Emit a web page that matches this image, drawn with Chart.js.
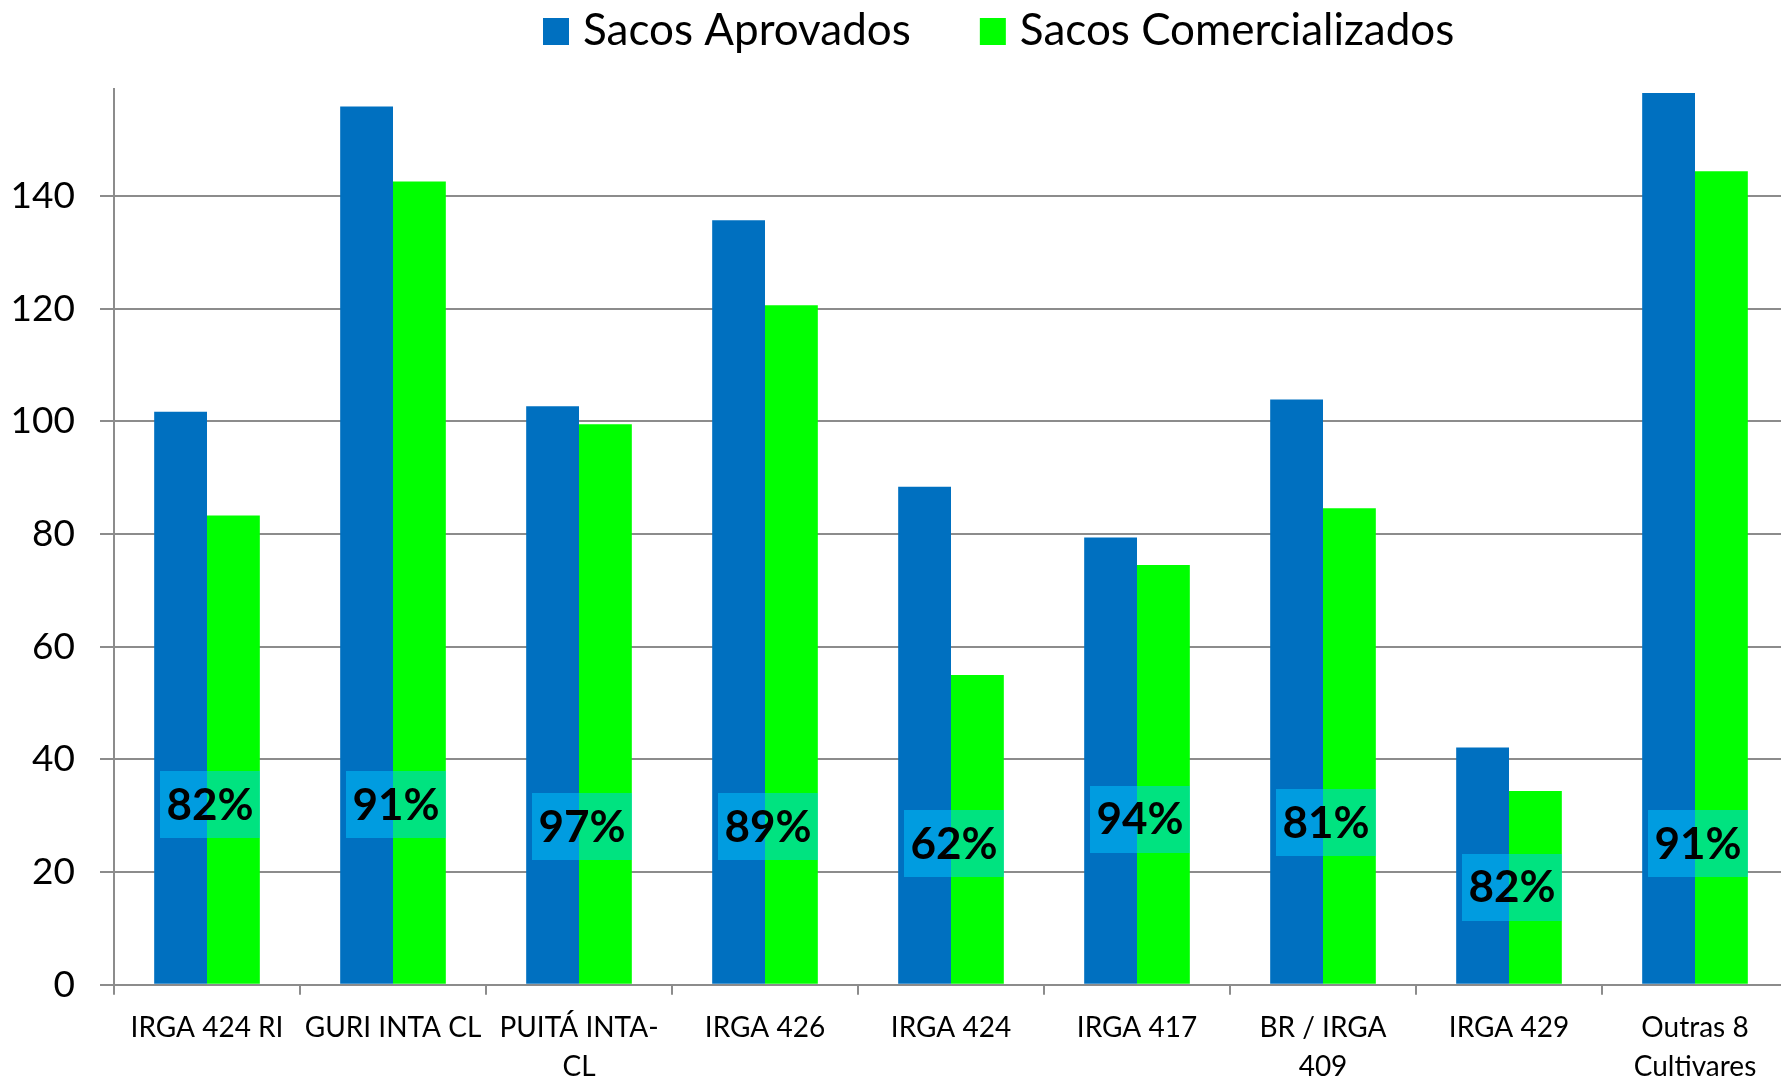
<!DOCTYPE html>
<html>
<head>
<meta charset="utf-8">
<script src="https://cdn.jsdelivr.net/npm/chart.js@4.4.1/dist/chart.umd.min.js"></script>
<style>
html,body{margin:0;padding:0;background:#fff;overflow:hidden;width:1781px;height:1078px;}
#wrap{position:absolute;left:0;top:0;width:1788px;height:1100px;}
canvas{display:block;}
</style>
</head>
<body>
<div id="wrap"><canvas id="c" width="1788" height="1100"></canvas></div>
<script>
// ---- data ----
const categories = [
  'IRGA 424 RI',
  'GURI INTA CL',
  ['PUITÁ INTA-', 'CL'],
  'IRGA 426',
  'IRGA 424',
  'IRGA 417',
  ['BR / IRGA', '409'],
  'IRGA 429',
  ['Outras 8', 'Cultivares']
];
const seriesNames = ['Sacos Aprovados', 'Sacos Comercializados'];
const sacosAprovados = [101.7, 155.9, 102.7, 135.7, 88.4, 79.4, 103.9, 42.1, 158.3];
const sacosComercializados = [83.3, 142.6, 99.5, 120.6, 55.0, 74.5, 84.6, 34.4, 144.4];
const percentLabels = ['82%', '91%', '97%', '89%', '62%', '94%', '81%', '82%', '91%'];
const percentLabelAt = [32.0, 32.0, 28.0, 28.0, 25.0, 29.4, 28.8, 17.3, 25.0];
const yTickValues = [0, 20, 40, 60, 80, 100, 120, 140];
const yMax = 159;

const FONT = 'Lato, "Open Sans", "DejaVu Sans", sans-serif';
const GRID = '#8c8c8c';

const pctPlugin = {
  id: 'pctPlugin',
  afterDatasetsDraw(chart) {
    const {ctx, scales: {x, y}} = chart;
    ctx.save();
    percentLabels.forEach((txt, i) => {
      const cx = x.getPixelForValue(i) + 3;
      const cy = y.getPixelForValue(percentLabelAt[i]);
      const w = 100, h = 67;
      ctx.fillStyle = 'rgba(0,200,255,0.5)';
      ctx.fillRect(Math.round(cx - w / 2), Math.round(cy - h / 2), w, h);
      ctx.fillStyle = '#000';
      ctx.font = 'bold 44px ' + FONT;
      ctx.textAlign = 'center';
      ctx.textBaseline = 'middle';
      ctx.fillText(txt, cx, cy + 1);
    });
    ctx.restore();
  }
};

const legendPlugin = {
  id: 'customLegend',
  afterDraw(chart) {
    const {ctx} = chart;
    ctx.save();
    ctx.font = '44px ' + FONT;
    ctx.textBaseline = 'alphabetic';
    ctx.textAlign = 'left';
    let xPos = 543;
    chart.data.datasets.forEach((ds) => {
      ctx.fillStyle = ds.backgroundColor;
      ctx.fillRect(xPos, 18, 26, 27);
      ctx.fillStyle = '#000';
      ctx.fillText(ds.label, xPos + 40, 45);
      xPos += 40 + ctx.measureText(ds.label).width + 69;
    });
    ctx.restore();
  }
};

new Chart(document.getElementById('c'), {
  type: 'bar',
  data: {
    labels: categories,
    datasets: [
      { label: seriesNames[0], data: sacosAprovados, backgroundColor: '#0070C0', borderWidth: 0 },
      { label: seriesNames[1], data: sacosComercializados, backgroundColor: '#00FF00', borderWidth: 0 }
    ]
  },
  options: {
    responsive: false,
    devicePixelRatio: 1,
    animation: false,
    layout: { padding: { top: 89, left: 11, right: 0, bottom: 0 } },
    plugins: { legend: { display: false }, tooltip: { enabled: false } },
    datasets: { bar: { categoryPercentage: 0.568, barPercentage: 1.0 } },
    scales: {
      x: {
        offset: true,
        afterFit(scale) { scale.paddingLeft = 0; scale.paddingRight = 0; },
        grid: { drawOnChartArea: false, drawTicks: true, tickLength: 10, color: GRID, lineWidth: 2, offset: true },
        border: { color: GRID, width: 2 },
        ticks: { font: { family: FONT, size: 28, lineHeight: 1.38 }, color: '#000', padding: 14, maxRotation: 0, autoSkip: false }
      },
      y: {
        min: 0,
        max: yMax,
        afterBuildTicks(scale) { scale.ticks = yTickValues.map(v => ({ value: v })); },
        afterFit(scale) { scale.paddingTop = 0; scale.width = 103; },
        grid: { color: GRID, lineWidth: 2, tickLength: 14 },
        border: { color: GRID, width: 2 },
        ticks: { font: { family: FONT, size: 37 }, color: '#000', padding: 25 }
      }
    }
  },
  plugins: [pctPlugin, legendPlugin]
});
</script>
</body>
</html>
